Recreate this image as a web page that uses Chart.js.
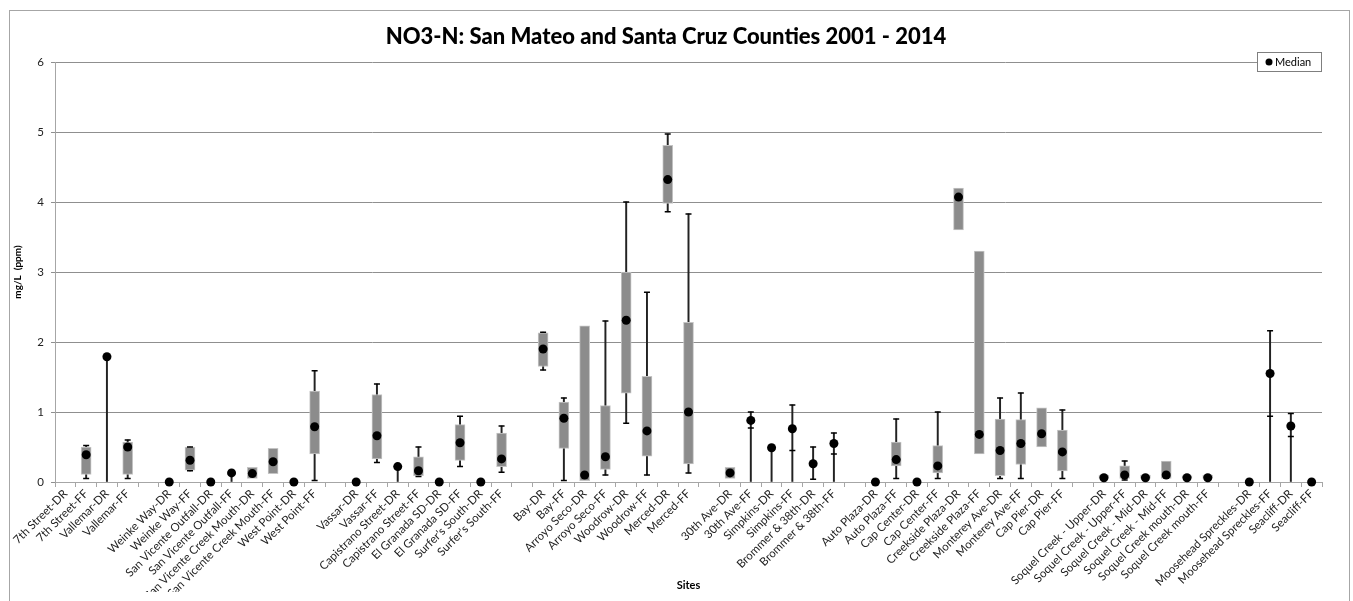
<!DOCTYPE html>
<html>
<head>
<meta charset="utf-8">
<script src="https://cdn.jsdelivr.net/npm/chart.js@4"></script>
<style>
  body { margin: 0; background: #fff; }
  #wrap { position: relative; width: 1353px; height: 601px; overflow: hidden; }
  #frame { position: absolute; left: 9px; top: 10px; width: 1339px; height: 620px; border: 1px solid #a6a6a6; }
  #myChart { position: absolute; left: 0; top: 0; }
</style>
</head>
<body>
<div id="wrap"><div id="frame"></div><canvas id="myChart" width="1353" height="601"></canvas></div>
<script>
// sites (blank strings are the gaps between groups)
const sites = [
  "7th Street-DR", "7th Street-FF", "Vallemar-DR", "Vallemar-FF", "",
  "Weinke Way-DR", "Weinke Way-FF", "San Vicente Outfall-DR", "San Vicente Outfall-FF",
  "San Vicente Creek Mouth-DR", "San Vicente Creek Mouth-FF", "West Point-DR", "West Point-FF", "",
  "Vassar-DR", "Vassar-FF", "Capistrano Street-DR", "Capistrano Street-FF",
  "El Granada SD-DR", "El Granada SD-FF", "Surfer's South-DR", "Surfer's South-FF", "",
  "Bay-DR", "Bay-FF", "Arroyo Seco-DR", "Arroyo Seco-FF", "Woodrow-DR", "Woodrow-FF",
  "Merced-DR", "Merced-FF", "",
  "30th Ave-DR", "30th Ave-FF", "Simpkins-DR", "Simpkins-FF", "Brommer & 38th-DR", "Brommer & 38th-FF", "",
  "Auto Plaza-DR", "Auto Plaza-FF", "Cap Center-DR", "Cap Center-FF", "Creekside Plaza-DR",
  "Creekside Plaza-FF", "Monterey Ave-DR", "Monterey Ave-FF", "Cap Pier-DR", "Cap Pier-FF", "",
  "Soquel Creek - Upper-DR", "Soquel Creek - Upper-FF", "Soquel Creek - Mid-DR", "Soquel Creek - Mid-FF",
  "Soquel Creek mouth-DR", "Soquel Creek mouth-FF", "",
  "Moosehead Spreckles-DR", "Moosehead Spreckles-FF", "Seacliff-DR", "Seacliff-FF"
];

const median = [
  null, 0.39, 1.79, 0.50, null,
  0, 0.31, 0, 0.13, 0.12, 0.29, 0, 0.79, null,
  0, 0.66, 0.22, 0.16, 0, 0.56, 0, 0.33, null,
  1.90, 0.91, 0.10, 0.36, 2.31, 0.73, 4.32, 1.00, null,
  0.13, 0.88, 0.49, 0.76, 0.26, 0.55, null,
  0, 0.32, 0, 0.23, 4.07, 0.68, 0.45, 0.55, 0.69, 0.43, null,
  0.06, 0.10, 0.06, 0.10, 0.06, 0.06, null,
  0, 1.55, 0.80, 0
];

const q1 = [
  null, 0.11, null, 0.11, null,
  null, 0.17, null, null, 0.05, 0.12, null, 0.40, null,
  null, 0.33, null, 0.09, null, 0.31, null, 0.22, null,
  1.65, 0.48, 0.02, 0.18, 1.27, 0.37, 3.98, 0.26, null,
  0.05, null, null, null, null, null, null,
  null, 0.23, null, 0.13, 3.60, 0.40, 0.09, 0.25, 0.50, 0.16, null,
  0.05, 0.05, 0.05, 0.05, 0.05, 0.05, null,
  null, null, null, null
];

const q3 = [
  null, 0.50, null, 0.57, null,
  null, 0.50, null, null, 0.21, 0.48, null, 1.30, null,
  null, 1.25, null, 0.36, null, 0.82, null, 0.70, null,
  2.13, 1.14, 2.23, 1.09, 3.00, 1.51, 4.81, 2.28, null,
  0.21, null, null, null, null, null, null,
  null, 0.57, null, 0.52, 4.20, 3.30, 0.90, 0.89, 1.06, 0.74, null,
  0.10, 0.23, 0.10, 0.30, 0.09, 0.10, null,
  null, null, null, null
];

const minV = [
  null, 0.05, 0, 0.05, null,
  null, 0.16, null, 0, null, null, null, 0.02, null,
  null, 0.28, 0, 0.08, null, 0.22, null, 0.14, null,
  1.60, 0.02, null, 0.10, 0.84, 0.10, 3.86, 0.13, null,
  null, 0, 0, 0, 0.04, 0, null,
  null, 0.05, null, 0.05, null, null, 0.05, 0.05, null, 0.05, null,
  null, 0.03, null, null, null, null, null,
  null, 0, 0, null
];

const maxV = [
  null, 0.52, 1.79, 0.60, null,
  null, 0.50, null, 0.13, null, null, null, 1.59, null,
  null, 1.40, 0.22, 0.50, null, 0.94, null, 0.80, null,
  2.14, 1.20, null, 2.30, 4.00, 2.71, 4.97, 3.83, null,
  null, 1.00, 0.49, 1.10, 0.50, 0.70, null,
  null, 0.90, null, 1.00, null, null, 1.20, 1.27, null, 1.03, null,
  null, 0.30, null, null, null, null, null,
  null, 2.16, 0.98, null
];

// lower caps that sit above the bottom of the line
const lowCap = [];
lowCap[33] = 0.77; lowCap[35] = 0.45; lowCap[37] = 0.40;
lowCap[58] = 0.94; lowCap[59] = 0.65;

const whiskers = sites.map((s, i) => (minV[i] != null && maxV[i] != null) ? [minV[i], maxV[i]] : null);
const boxes = sites.map((s, i) => (q1[i] != null && q3[i] != null) ? [q1[i], q3[i]] : null);
const capHi = sites.map((s, i) => maxV[i] != null ? maxV[i] : null);
const capLo = sites.map((s, i) => lowCap[i] != null ? lowCap[i] : (minV[i] > 0 ? minV[i] : null));

const font = "Lato, 'Liberation Sans', sans-serif";

// legend box in the top right corner, overlapping the top gridline
const medianLegend = {
  id: "medianLegend",
  afterDraw(chart) {
    const c = chart.ctx;
    const right = chart.chartArea.right;
    const top = chart.chartArea.top - 10;
    c.save();
    c.fillStyle = "#fff";
    c.fillRect(right - 65, top, 65, 20);
    c.strokeStyle = "#7f7f7f";
    c.lineWidth = 1;
    c.strokeRect(right - 64.5, top + 0.5, 64, 19);
    c.fillStyle = "#000";
    c.beginPath();
    c.arc(right - 53, top + 10, 3.5, 0, Math.PI * 2);
    c.fill();
    c.font = "11px " + font;
    c.textBaseline = "middle";
    c.fillText(chart.data.datasets[0].label, right - 47, top + 10.5);
    c.restore();
  }
};

const ctx = document.getElementById("myChart");
const myChart = new Chart(ctx, {
  type: "bar",
  data: {
    labels: sites,
    datasets: [
      {
        label: "Median",
        type: "line",
        data: median,
        showLine: false,
        pointStyle: "circle",
        pointRadius: 4.5,
        pointBackgroundColor: "#000",
        pointBorderColor: "#000",
        pointBorderWidth: 0,
        clip: false,
        order: 0,
      },
      {
        label: "hi",
        type: "line",
        data: capHi,
        showLine: false,
        pointStyle: "line",
        pointRadius: 3,
        pointBorderColor: "#000",
        pointBorderWidth: 1.5,
        order: 1,
      },
      {
        label: "lo",
        type: "line",
        data: capLo,
        showLine: false,
        pointStyle: "line",
        pointRadius: 3,
        pointBorderColor: "#000",
        pointBorderWidth: 1.5,
        order: 1,
      },
      {
        label: "box",
        data: boxes,
        grouped: false,
        barThickness: 10,
        backgroundColor: "#8c8c8c",
        borderColor: "#c4c4c4",
        borderWidth: 1,
        borderSkipped: false,
        order: 2,
      },
      {
        label: "whisker",
        data: whiskers,
        grouped: false,
        barThickness: 1.3,
        backgroundColor: "#222",
        borderWidth: 0,
        order: 3,
      },
    ],
  },
  options: {
    responsive: false,
    animation: false,
    layout: { padding: { left: 10, right: 31, top: 0, bottom: 9 } },
    plugins: {
      title: {
        display: true,
        text: "NO3-N: San Mateo and Santa Cruz Counties 2001 - 2014",
        font: { family: font, size: 22, weight: 900 },
        color: "#000",
        padding: { top: 24, bottom: 11.6 },
      },
      legend: { display: false },
      tooltip: { enabled: false },
    },
    scales: {
      x: {
        offset: true,
        grid: { drawOnChartArea: false, offset: true, tickLength: 5, color: "#a6a6a6" },
        border: { color: "#a6a6a6" },
        ticks: {
          autoSkip: false,
          maxRotation: 45,
          minRotation: 45,
          padding: 0,
          color: "#222",
          font: { family: font, size: 11.5 },
        },
        title: {
          display: true,
          text: "Sites",
          color: "#000",
          font: { family: font, size: 11, weight: "bold" },
          padding: { top: 2, bottom: 0 },
        },
        afterFit: (scale) => { scale.height = 110; },
      },
      y: {
        min: 0,
        max: 6,
        ticks: {
          stepSize: 1,
          color: "#222",
          padding: 7,
          font: { family: font, size: 11.5 },
        },
        grid: { color: "#8f8f8f", tickLength: 4 },
        border: { color: "#a6a6a6" },
        title: {
          display: true,
          text: "mg/L  (ppm)",
          color: "#000",
          font: { family: font, size: 10, weight: "bold" },
          padding: 2,
        },
        afterFit: (scale) => { scale.width = 45; },
      },
    },
  },
  plugins: [medianLegend],
});
</script>
</body>
</html>
